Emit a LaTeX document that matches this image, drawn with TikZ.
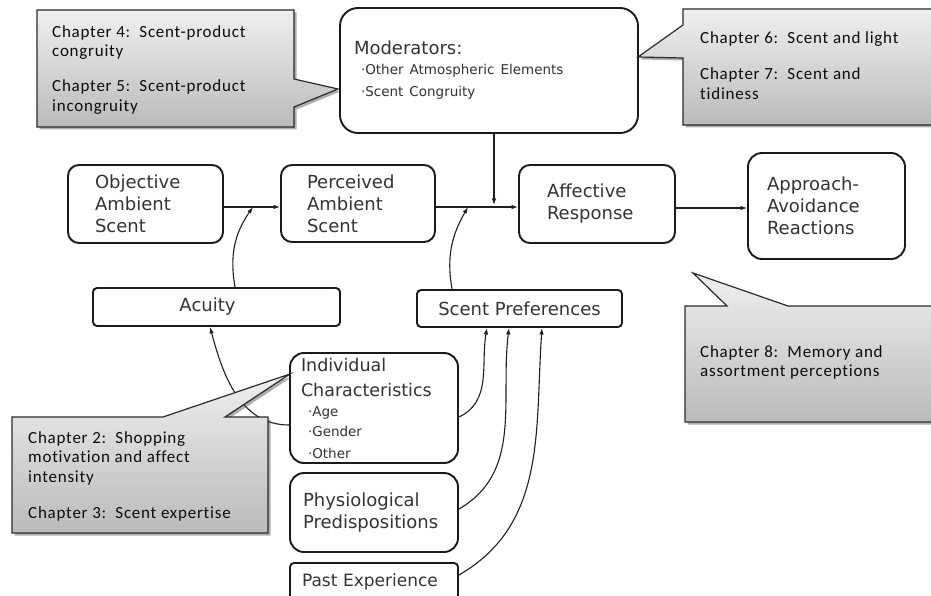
\documentclass[tikz,border=0pt]{standalone}
\usepackage{fontspec}
\setmainfont{DejaVu Sans}
\newfontfamily\callfont{Carlito}[LetterSpace=4.5,Ligatures=NoCommon]
\usetikzlibrary{arrows.meta,shadows}

\definecolor{boxline}{HTML}{1A1A1A}
\definecolor{boxtext}{HTML}{333333}
\definecolor{cotop}{HTML}{EFEFEF}
\definecolor{cobot}{HTML}{BABABA}
\definecolor{coline}{HTML}{2A2A2A}

\newcommand\bigfs{\fontsize{18}{22}\selectfont}
\newcommand\smallfs{\fontsize{13.5}{20}\selectfont}
\newcommand\callfs{\callfont\fontsize{17}{19.5}\selectfont}
\newcommand\itm[1]{\hspace*{7pt}·#1}

\begin{document}
\begin{tikzpicture}[x=1pt,y=-1pt,
  box/.style={draw=boxline, line width=1.9pt, fill=white, align=left,
    text=boxtext, font=\bigfs, inner ysep=0pt, rounded corners=11pt},
  tagbox/.style={box, rounded corners=4pt, align=center},
  arr/.style={draw=black!88, line width=1.1pt, -{Latex[length=6.5pt,width=4.5pt]}},
  callout/.style={draw=coline, line width=1.2pt, top color=cotop, bottom color=cobot,
    drop shadow={shadow xshift=2.5pt, shadow yshift=-2.5pt, fill=black!70, opacity=0.45}},
  note/.style={font=\callfs, text=black!95, align=left, inner sep=0pt, anchor=north west}]

\useasboundingbox (0,0) rectangle (931,596);

% ---- model boxes ----
\node[box, rounded corners=18pt, text width=270pt, inner xsep=14pt, minimum height=125pt]
  (mod) at (489,70.5) {Moderators:\\\smallfs\itm{Other Atmospheric Elements}\\\itm{Scent Congruity}};
\node[box, text width=101pt, inner xsep=27pt, minimum height=78pt]
  (obj) at (145.5,204) {Objective\\Ambient\\Scent};
\node[box, text width=102pt, inner xsep=26pt, minimum height=77pt]
  (per) at (358,203.5) {Perceived\\Ambient\\Scent};
\node[box, text width=100pt, inner xsep=28pt, minimum height=78pt]
  (aff) at (597,204) {Affective\\Response};
\node[box, rounded corners=14pt, text width=119pt, inner xsep=19pt, minimum height=106pt]
  (app) at (826.5,206) {Approach-\\Avoidance\\Reactions};
\node[tagbox, minimum width=247pt, minimum height=38pt] (acu) at (216.5,307) {\hspace*{-18pt}Acuity};
\node[tagbox, minimum width=205pt, minimum height=37pt] (pref) at (519.5,308.5) {Scent Preferences};
\node[box, rounded corners=14pt, text width=146pt, inner xsep=11pt, minimum height=110pt,
  font=\fontsize{17.5}{22}\selectfont]
  (ind) at (374,408) {Individual\\[3pt]Characteristics\\\smallfs\itm{Age}\\\itm{Gender}\\\itm{Other}};
\node[box, rounded corners=14pt, text width=142pt, inner xsep=13pt, minimum height=79pt]
  (phy) at (374,512.5) {Physiological\\Predispositions};
\node[tagbox, align=left, text width=144pt, inner xsep=12pt, minimum height=38pt,
  font=\fontsize{17}{20}\selectfont] (past) at (374,582) {Past Experience};

% ---- junctions on the main path ----
\coordinate (j1) at (253,207);
\coordinate (j2) at (468,207);
\coordinate (j3) at (494,207);
\coordinate (j4) at (710,208);

% ---- connectors ----
\draw[arr] (obj.east |- j1) -- (per.west |- j1);
\draw[arr] (per.east |- j2) -- (aff.west |- j2);
\draw[arr] (aff.east |- j4) -- (app.west |- j4);
\draw[arr] (mod.south -| j3) -- ([yshift=2pt]j3);
\draw[arr] ([xshift=18.5pt]acu.north) to[out=100,in=235] (j1);
\draw[arr] ([xshift=-67.5pt]pref.north) to[out=100,in=240] (j2);
\draw[arr] ([yshift=-9pt]ind.east) to[out=25,in=260] ([xshift=-32.5pt]pref.south);
\draw[arr] ([yshift=3.5pt]phy.east) to[out=30,in=263] ([xshift=-10.5pt]pref.south);
\draw[arr] ([yshift=7pt]past.east) to[out=30,in=266] ([xshift=22.5pt]pref.south);
\draw[arr] ([yshift=-17pt]ind.west) to[out=180,in=285] ([xshift=-6.5pt]acu.south);

% ---- chapter callouts ----
\path[callout] (37,10) -- (294,10) -- (294,79) -- (338,89) -- (294,107) -- (294,127) -- (37,127) -- cycle;
\path[callout] (683,9) -- (940,9) -- (940,125) -- (683,125) -- (683,58) -- (638,57) -- (683,25) -- cycle;
\path[callout] (12,417) -- (163,417) -- (290,374) -- (225,417) -- (268,417) -- (268,533) -- (12,533) -- cycle;
\path[callout] (685,306) -- (727,306) -- (693,273) -- (788,306) -- (940,306) -- (940,422) -- (685,422) -- cycle;

\node[note] (n1) at (52,25) {Chapter~4:\ \ Scent-product\\congruity\\[15.5pt]Chapter~5:\ \ Scent-product\\incongruity};
\node[note] (n2) at (700,31) {Chapter~6:\ \ Scent and light\\[17pt]Chapter~7:\ \ Scent and\\tidiness};
\node[note] (n3) at (28,431) {Chapter~2:\ \ Shopping\\motivation and affect\\intensity\\[16.5pt]Chapter~3:\ \ Scent expertise};
\node[note] (n4) at (700,345) {Chapter~8:\ \ Memory and\\assortment perceptions};

\end{tikzpicture}
\end{document}
